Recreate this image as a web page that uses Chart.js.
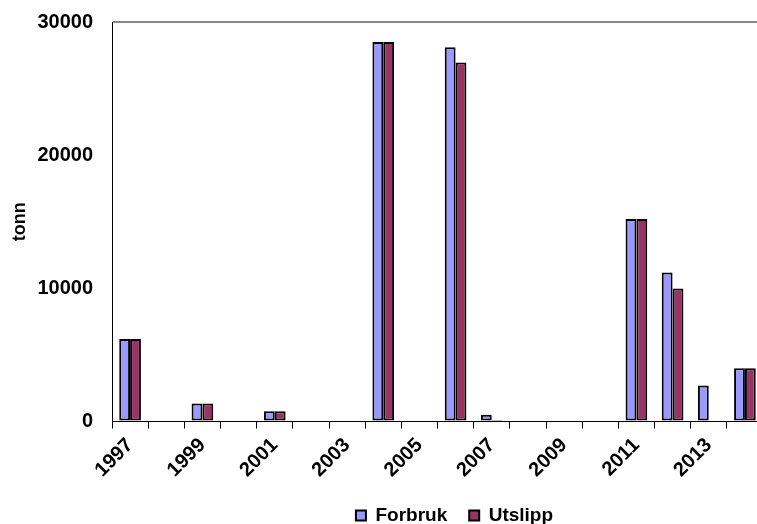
<!DOCTYPE html>
<html>
<head>
<meta charset="utf-8">
<script src="https://cdn.jsdelivr.net/npm/chart.js@4"></script>
<style>
  html, body { margin: 0; padding: 0; background: #fff; overflow: hidden; }
  #wrap { width: 757px; height: 524px; overflow: hidden; }
</style>
</head>
<body>
<div id="wrap"><canvas id="c" width="775" height="524"></canvas></div>
<script>
// Years on the category axis
const years = ['1997','1998','1999','2000','2001','2002','2003','2004','2005',
               '2006','2007','2008','2009','2010','2011','2012','2013','2014'];
// Consumption (tonn)
const forbruk = [6200, null, 1350, null, 780, null, null, 28500, null,
                 28100, 520, null, null, null, 15200, 11200, 2700, 4000];
// Emissions (tonn)
const utslipp = [6200, null, 1350, null, 780, null, null, 28500, null,
                 26950, 40, null, null, null, 15200, 10000, 0, 4000];
// Value axis ticks
const yTicks = [0, 10000, 20000, 30000];

const FONT = 'Liberation Sans, Arial, sans-serif';
const X_TRIM = 14;

// After layout: move the legend right/down and give the year labels
// their full height back so they are not clipped
const layoutTweaks = {
  id: 'layoutTweaks',
  afterLayout(chart) {
    const lg = chart.legend;
    if (lg) {
      const dx = 73, dy = 11;
      lg.left += dx; lg.right += dx;
      lg.top += dy; lg.bottom += dy;
    }
    const xs = chart.scales.x;
    xs.bottom += X_TRIM; xs.height += X_TRIM;
  }
};

new Chart(document.getElementById('c'), {
  type: 'bar',
  data: {
    labels: years,
    datasets: [
      { label: 'Forbruk', data: forbruk, backgroundColor: '#9999FF',
        borderColor: '#000', borderWidth: 2 },
      { label: 'Utslipp', data: utslipp, backgroundColor: '#993366',
        borderColor: '#000', borderWidth: 2 }
    ]
  },
  options: {
    responsive: false,
    devicePixelRatio: 1,
    animation: false,
    layout: { padding: { top: 22, right: 12, bottom: 0, left: 0 } },
    datasets: { bar: { categoryPercentage: 0.6, barPercentage: 1.0, borderSkipped: false } },
    plugins: {
      tooltip: { enabled: false },
      legend: {
        position: 'bottom',
        labels: {
          color: '#000',
          font: { family: FONT, size: 19, weight: 'bold' },
          boxWidth: 10, boxHeight: 10, padding: 22
        }
      }
    },
    scales: {
      x: {
        afterFit(scale) { scale.height -= X_TRIM; },
        grid: { display: true, drawOnChartArea: false, drawTicks: true,
                tickLength: 7, color: '#000', lineWidth: 1 },
        border: { display: true, color: '#000', width: 1 },
        ticks: {
          autoSkip: false, minRotation: 45, maxRotation: 45,
          color: '#000', padding: 5,
          font: { family: FONT, size: 20, weight: 'bold' },
          callback: (v, i) => (i % 2 === 0 ? years[i] : '')
        }
      },
      y: {
        min: 0, max: 30000,
        afterBuildTicks(scale) { scale.ticks = yTicks.map(v => ({ value: v })); },
        afterFit(scale) { scale.width = 112; scale.paddingTop = 0; },
        grid: {
          drawTicks: false,
          color: c => (c.tick && c.tick.value === 30000 ? '#888' : 'rgba(0,0,0,0)'),
          lineWidth: 2
        },
        border: { display: true, color: '#000', width: 1 },
        ticks: { color: '#000', padding: 19,
                 font: { family: FONT, size: 20, weight: 'bold' },
                 callback: v => String(v) },
        title: { display: true, text: 'tonn', color: '#000',
                 font: { family: FONT, size: 18, weight: 'bold' },
                 padding: { top: 9, bottom: 0 } }
      }
    }
  },
  plugins: [layoutTweaks]
});
</script>
</body>
</html>
